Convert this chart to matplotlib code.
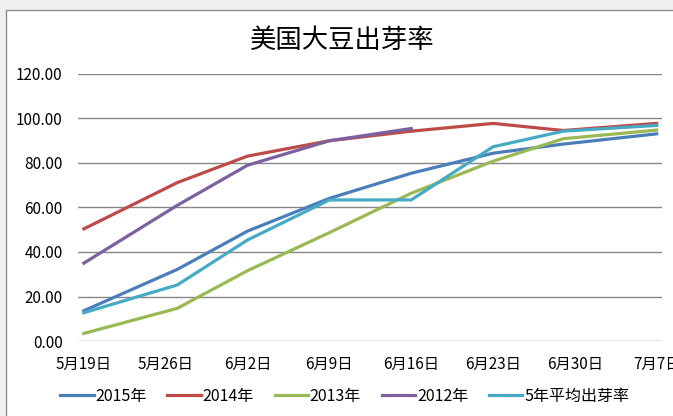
import matplotlib
matplotlib.use("Agg")
import matplotlib.pyplot as plt
from matplotlib.patches import Rectangle
import pandas as pd

plt.rcParams['font.family'] = ['Noto Sans CJK SC', 'DejaVu Sans']

# data
dates = pd.to_datetime(['2015-05-19', '2015-05-27', '2015-06-02', '2015-06-09',
                        '2015-06-16', '2015-06-23', '2015-06-29', '2015-07-07'])
y2015 = [13.6, 32.2, 49.4, 64.1, 75.4, 84.4, 88.5, 93.1]
y2014 = [50.4, 71.2, 83.1, 90.0, 94.3, 97.8, 94.6, 97.8]
y2013 = [3.4, 14.7, 31.6, 48.7, 66.4, 80.8, 90.9, 94.8]
y2012 = [35.0, 61.0, 79.0, 90.0, 95.5]
yavg = [12.7, 25.2, 45.4, 63.4, 63.4, 87.3, 94.3, 96.9]

series_names = ['2015年', '2014年', '2013年', '2012年', '5年平均出芽率']
series_vals = [y2015, y2014, y2013, y2012, yavg]
colors = ['#4A7EBB', '#BE4B48', '#98B954', '#7D60A0', '#46AAC5']

tick_dates = pd.date_range('2015-05-19', '2015-07-07', freq='7D')
yticks = [0, 20, 40, 60, 80, 100, 120]

fig = plt.figure(figsize=(6.73, 4.16), dpi=100)
fig.patch.set_facecolor('#f0f0f0')
# chart frame (right and bottom edges run off the picture)
fig.patches.append(Rectangle((6 / 673, -0.1), 1.2, 1.1 - 10 / 416, transform=fig.transFigure,
                             facecolor='white', edgecolor='#8c8c8c', linewidth=1.0, zorder=-10))

ax = fig.add_axes([78 / 673, 1 - 341 / 416, 584 / 673, 267 / 416])
ax.set_facecolor('none')

for name, vals, c in zip(series_names, series_vals, colors):
    ax.plot(dates[:len(vals)], vals, color=c, linewidth=2.3, label=name,
            solid_joinstyle='miter', zorder=3)

start = dates[0]
ax.set_xlim(start - pd.Timedelta(hours=12), start + pd.Timedelta(days=49.45))
ax.set_ylim(0, 120)
ax.set_yticks(yticks)
ax.set_yticklabels([f"{v:.2f}" for v in yticks])
ax.set_xticks(tick_dates)
ax.set_xticklabels([f"{d.month}月{d.day}日" for d in tick_dates])

ax.grid(axis='y', color='#868686', linewidth=1.0)
ax.set_axisbelow(True)
for s in ax.spines.values():
    s.set_visible(False)
ax.tick_params(axis='both', length=0, labelsize=11, colors='black')
ax.tick_params(axis='y', pad=11)
ax.tick_params(axis='x', pad=11)

fig.text(0.509, 1 - 40 / 416, '美国大豆出芽率', ha='center', va='center',
         fontsize=19, fontweight='medium')

fig.legend(loc='center', bbox_to_anchor=(0.512, 1 - 396 / 416), ncol=5, frameon=False,
           fontsize=11.5, handlelength=2.1, handletextpad=0.1, columnspacing=1.3)

fig.savefig('out.png', dpi=100, facecolor=fig.get_facecolor())
